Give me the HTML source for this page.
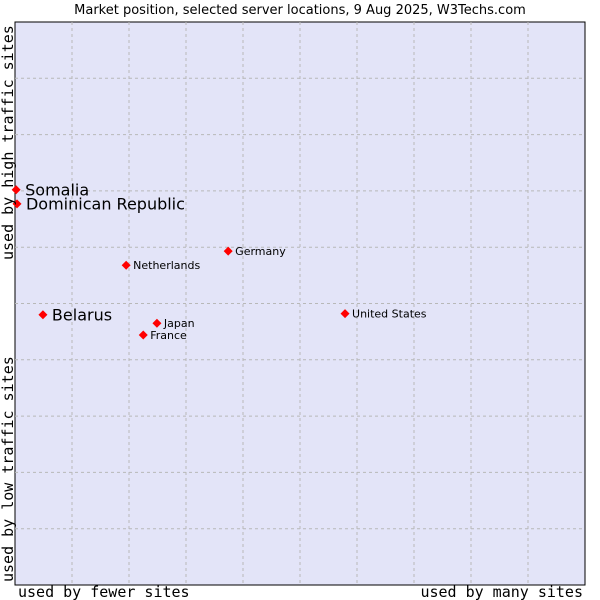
<!DOCTYPE html>
<html><head><meta charset="utf-8"><style>
body{margin:0;background:#fff;}
svg{display:block;font-family:"DejaVu Sans","Liberation Sans",sans-serif;}
.mono{font-family:"DejaVu Sans Mono","Liberation Mono",monospace;font-size:15px;fill:#000}
</style></head><body>
<svg id="chart" width="600" height="600">
<text x="300" y="14" text-anchor="middle" font-size="13">Market position, selected server locations, 9 Aug 2025, W3Techs.com</text>
<rect x="15" y="22" width="570" height="563" fill="#e3e4f8" stroke="#000" stroke-width="1"/>
<g id="grid"></g>
<g id="points"></g>
<text class="mono" transform="translate(13,260) rotate(-90)">used by high traffic sites</text>
<text class="mono" transform="translate(13,582) rotate(-90)">used by low traffic sites</text>
<text class="mono" x="18" y="597">used by fewer sites</text>
<text class="mono" x="583" y="597" text-anchor="end">used by many sites</text>
</svg>
<script>
const names=["Somalia","Dominican Republic","Belarus","Netherlands","Germany","Japan","France","United States"];
const xVals=[0.2,0.35,4.9,19.5,37.4,24.9,22.5,57.9];
const yVals=[70.2,67.7,48.0,56.8,59.3,46.5,44.4,48.2];
const bigLabel=[true,true,true,false,false,false,false,false];
const L=15,T=22,W=570,H=563;
const xs=v=>L+v/100*W, ys=v=>T+H-v/100*H;
const NS="http://www.w3.org/2000/svg";
const g=document.getElementById('grid');
for(let i=1;i<10;i++){
  const a=document.createElementNS(NS,'line');
  a.setAttribute('x1',xs(i*10));a.setAttribute('x2',xs(i*10));a.setAttribute('y1',T);a.setAttribute('y2',T+H);
  a.setAttribute('stroke','#b8b8b8');a.setAttribute('stroke-dasharray','3,3');
  
  
  g.appendChild(a);
  const b=document.createElementNS(NS,'line');
  b.setAttribute('y1',ys(i*10));b.setAttribute('y2',ys(i*10));b.setAttribute('x1',L);b.setAttribute('x2',L+W);
  b.setAttribute('stroke','#b8b8b8');b.setAttribute('stroke-dasharray','3,3');
  
  
  g.appendChild(b);
}
const p=document.getElementById('points');
names.forEach((n,i)=>{
  const x=xs(xVals[i]),y=ys(yVals[i]);
  const d=document.createElementNS(NS,'polygon');
  d.setAttribute('points',`${x},${y-4.5} ${x+4.5},${y} ${x},${y+4.5} ${x-4.5},${y}`);
  d.setAttribute('fill','#ff0000');
  
  
  p.appendChild(d);
  const t=document.createElementNS(NS,'text');
  t.setAttribute('x',x+(bigLabel[i]?9:7));
  t.setAttribute('y',y+(bigLabel[i]?5.5:4));
  t.setAttribute('font-size',bigLabel[i]?'16':'11');
  t.textContent=n;
  
  
  p.appendChild(t);
});
</script>
</body></html>
